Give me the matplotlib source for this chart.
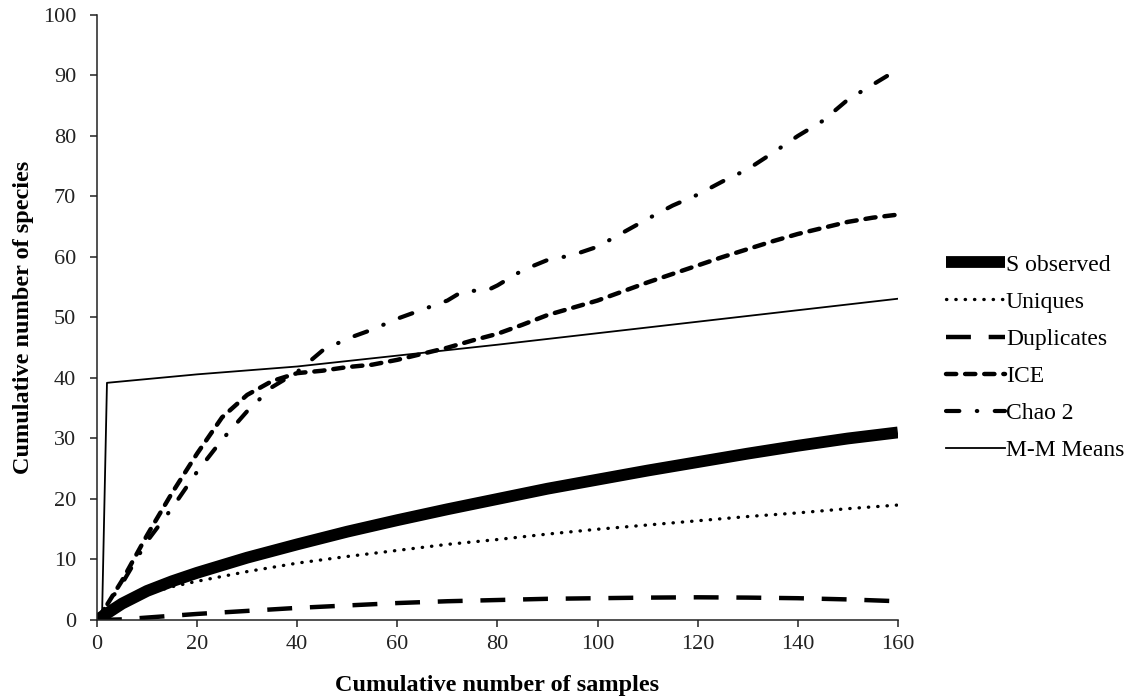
import matplotlib
matplotlib.use("Agg")
import matplotlib.pyplot as plt

plt.rcParams['font.family'] = ['Liberation Serif', 'DejaVu Serif']

label_font_size = 17.5
tick_font_size = 16
legend_font_size = 17

# sample grid for the smooth curves
x_obs = [0, 5, 10, 15, 20, 30, 40, 50, 60, 70, 80, 90, 100, 110, 120, 130, 140, 150, 160]
s_observed = [0, 2.7, 4.8, 6.4, 7.8, 10.3, 12.5, 14.6, 16.5, 18.3, 20.0, 21.7, 23.2, 24.7, 26.1, 27.5, 28.8, 30.0, 31.0]
uniques = [0, 2.5, 4.3, 5.5, 6.4, 8.0, 9.4, 10.5, 11.5, 12.5, 13.3, 14.2, 15.0, 15.7, 16.4, 17.1, 17.7, 18.4, 19.0]
duplicates = [0, 0.1, 0.4, 0.7, 1.0, 1.5, 2.0, 2.4, 2.8, 3.1, 3.3, 3.5, 3.6, 3.7, 3.75, 3.7, 3.6, 3.4, 3.1]

x_ice = [0, 2, 5, 10, 15, 20, 25, 30, 35, 40, 45, 50, 55, 60, 65, 70, 75, 80, 85, 90, 95,
         100, 105, 110, 115, 120, 125, 130, 135, 140, 145, 150, 155, 160]
ice = [0, 2.5, 6.5, 14.0, 21.0, 27.5, 33.5, 37.2, 39.5, 40.8, 41.2, 41.8, 42.2, 43.0, 44.0, 45.0, 46.2,
       47.3, 48.8, 50.4, 51.6, 52.8, 54.3, 55.8, 57.2, 58.6, 60.0, 61.3, 62.6, 63.8, 64.8, 65.8, 66.5, 67.0]

x_chao = [0, 2, 5, 10, 15, 20, 25, 30, 35, 40, 45, 50, 55, 60, 65, 70, 73, 75, 78, 80, 85, 90, 95,
          100, 105, 110, 115, 120, 125, 130, 135, 140, 145, 150, 155, 160]
chao2 = [0, 2.5, 6.0, 13.0, 18.5, 24.5, 29.8, 34.5, 38.5, 41.0, 44.5, 46.5, 48.0, 49.8, 51.3, 52.8, 54.3,
         54.4, 54.5, 55.3, 57.8, 59.5, 60.3, 61.7, 64.0, 66.3, 68.5, 70.3, 72.5, 74.5, 77.2, 80.0, 82.5,
         86.0, 88.5, 91.0]

x_mm = [1, 2, 20, 40, 60, 80, 100, 120, 140, 160]
mm_means = [0, 39.2, 40.6, 41.9, 43.7, 45.5, 47.4, 49.3, 51.2, 53.1]

fig = plt.figure(figsize=(11.38, 7.0), dpi=100)
ax = fig.add_axes([0.0852, 0.1143, 0.7038, 0.8643])

ax.plot(x_obs, s_observed, color='black', linewidth=8.5, solid_capstyle='butt', label='S observed')
ax.plot(x_obs, uniques, color='black', linewidth=2.4, linestyle=(0, (0.1, 2.7)),
        dash_capstyle='round', label='Uniques')
ax.plot(x_obs, duplicates, color='black', linewidth=3.2, linestyle=(0, (5.6, 4.0)),
        dash_capstyle='butt', label='Duplicates')
ax.plot(x_ice, ice, color='black', linewidth=3.2, linestyle=(0, (2.3, 2.0)),
        dash_capstyle='round', label='ICE')
ax.plot(x_chao, chao2, color='black', linewidth=3.0, linestyle=(0, (3.2, 4.2, 0.1, 4.2)),
        dash_capstyle='round', label='Chao 2')
ax.plot(x_mm, mm_means, color='black', linewidth=1.3, label='M-M Means')

ax.set_xlim(0, 160)
ax.set_ylim(0, 100)
ax.set_xticks(range(0, 161, 20))
ax.set_yticks(range(0, 101, 10))
ax.spines['right'].set_visible(False)
ax.spines['top'].set_visible(False)
for side in ['left', 'bottom']:
    ax.spines[side].set_linewidth(1.1)
    ax.spines[side].set_color('#222222')
ax.tick_params(direction='out', length=5, width=1.1, labelsize=tick_font_size, colors='#222222')
ax.tick_params(axis='x', pad=6)
ax.tick_params(axis='y', pad=10)

ax.set_xlabel('Cumulative number of samples', fontsize=label_font_size, fontweight='bold', labelpad=15)
ax.set_ylabel('Cumulative number of species', fontsize=label_font_size, fontweight='bold', labelpad=6)

fig.legend(loc='upper left', bbox_to_anchor=(0.831, 0.637), frameon=False,
           fontsize=legend_font_size, handlelength=2.5, handletextpad=0.05,
           labelspacing=0.66, borderpad=0, borderaxespad=0)

plt.savefig('out.png', dpi=100)
